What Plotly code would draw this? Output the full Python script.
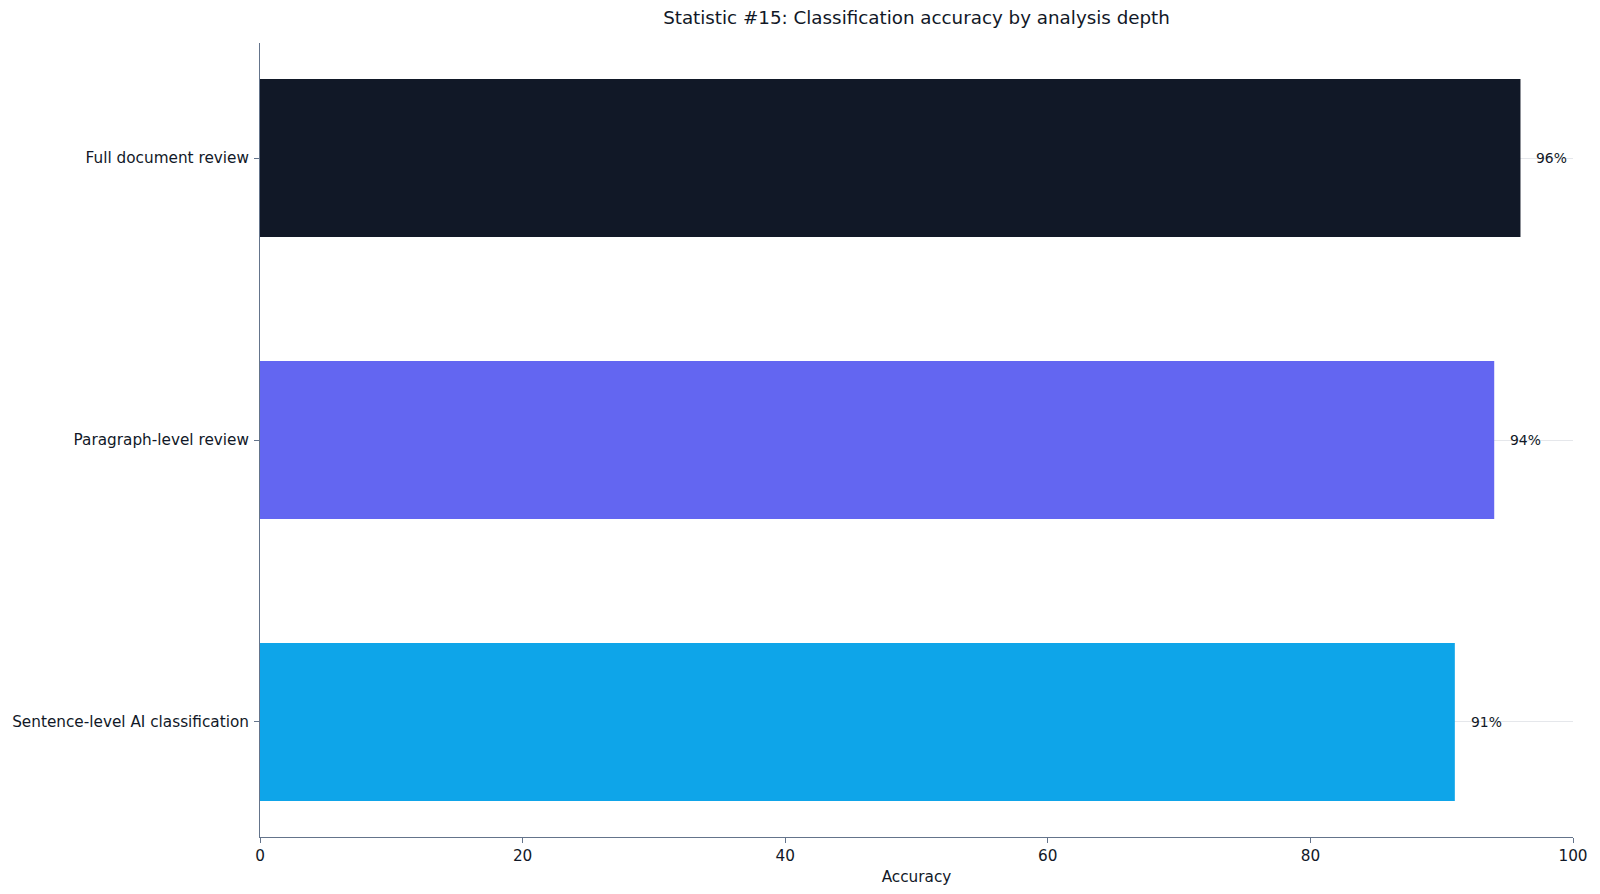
import plotly.graph_objects as go

categories = ["Sentence-level AI classification", "Paragraph-level review", "Full document review"]
accuracy = [91, 94, 96]
bar_colors = ["#0EA5E9", "#6366F1", "#111827"]
label_text = ["91%", "94%", "96%"]

font_family = "DejaVu Sans, Verdana, sans-serif"
ink = "#111827"
spine = "#64748B"

fig = go.Figure()
fig.add_trace(go.Bar(
    x=accuracy, y=list(range(len(categories))), orientation="h",
    marker=dict(color=bar_colors, line=dict(width=0)),
    width=0.56, hoverinfo="skip", showlegend=False,
))

for i, v in enumerate(accuracy):
    fig.add_annotation(x=v, y=i, text=label_text[i], showarrow=False,
                       xanchor="left", xshift=14, font=dict(size=13.9, color=ink, family=font_family))

fig.update_layout(
    title=dict(text="Statistic #15: Classification accuracy by analysis depth",
               xref="paper", x=0.5, xanchor="center", y=1 - 17.5 / 894, yanchor="middle",
               font=dict(size=18.3, color=ink, family=font_family)),
    width=1600, height=894,
    margin=dict(l=258, r=24, t=43, b=57),
    paper_bgcolor="white", plot_bgcolor="white",
    font=dict(family=font_family, size=15.28, color=ink),
    xaxis=dict(range=[0, 100], tickvals=[0, 20, 40, 60, 80, 100], showgrid=False,
               zeroline=False, showline=True, linecolor=spine, linewidth=1,
               ticks="outside", ticklen=5, tickcolor=spine,
               title=dict(text="Accuracy", standoff=6, font=dict(size=15.28))),
    yaxis=dict(range=[-0.408, 2.408], tickvals=list(range(len(categories))), ticktext=categories,
               showgrid=True, gridcolor="#E5E7EB", gridwidth=1, zeroline=False,
               showline=True, linecolor=spine, linewidth=1,
               ticks="outside", ticklen=5, tickcolor=spine, ticklabelstandoff=2),
)

# drop the default body margin so the figure sits at the window's top-left corner
fit_page = """
document.documentElement.style.margin = '0';
document.body.style.margin = '0';
document.body.style.overflow = 'hidden';
"""

fig.write_html("out.html", post_script=fit_page, config={"displayModeBar": False})
